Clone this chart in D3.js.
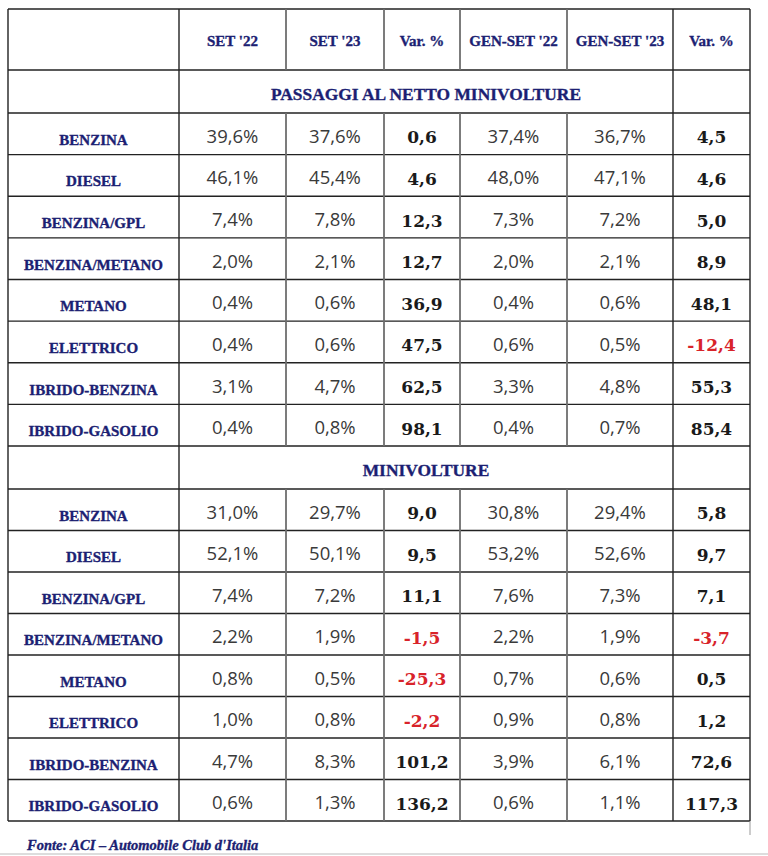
<!DOCTYPE html>
<html><head><meta charset="utf-8">
<script src="https://cdn.jsdelivr.net/npm/d3@7"></script>
<style>body{margin:0;background:#fff}</style>
</head><body>
<svg id="c" width="768" height="856"></svg>
<script>
const headers = ["", "SET '22", "SET '23", "Var. %", "GEN-SET '22", "GEN-SET '23", "Var. %"];
const sections = ["PASSAGGI AL NETTO MINIVOLTURE", "MINIVOLTURE"];
const fuels = ["BENZINA","DIESEL","BENZINA/GPL","BENZINA/METANO","METANO","ELETTRICO","IBRIDO-BENZINA","IBRIDO-GASOLIO"];
const set22_a = ["39,6%","46,1%","7,4%","2,0%","0,4%","0,4%","3,1%","0,4%"];
const set23_a = ["37,6%","45,4%","7,8%","2,1%","0,6%","0,6%","4,7%","0,8%"];
const var1_a  = [0.6,4.6,12.3,12.7,36.9,47.5,62.5,98.1];
const gen22_a = ["37,4%","48,0%","7,3%","2,0%","0,4%","0,6%","3,3%","0,4%"];
const gen23_a = ["36,7%","47,1%","7,2%","2,1%","0,6%","0,5%","4,8%","0,7%"];
const var2_a  = [4.5,4.6,5.0,8.9,48.1,-12.4,55.3,85.4];
const set22_b = ["31,0%","52,1%","7,4%","2,2%","0,8%","1,0%","4,7%","0,6%"];
const set23_b = ["29,7%","50,1%","7,2%","1,9%","0,5%","0,8%","8,3%","1,3%"];
const var1_b  = [9.0,9.5,11.1,-1.5,-25.3,-2.2,101.2,136.2];
const gen22_b = ["30,8%","53,2%","7,6%","2,2%","0,7%","0,9%","3,9%","0,6%"];
const gen23_b = ["29,4%","52,6%","7,3%","1,9%","0,6%","0,8%","6,1%","1,1%"];
const var2_b  = [5.8,9.7,7.1,-3.7,0.5,1.2,72.6,117.3];
const source = "Fonte: ACI \u2013 Automobile Club d'Italia";

const svg = d3.select("#c");
const colX = [8,179,286,384,460,567,673,750];
const navy = "#1c1f73";
const serif = "'Liberation Serif', serif";
const fmt = v => d3.format(".1f")(v).replace(".", ",").replace("\u2212","-");

const yA = d3.scaleLinear().domain([0,8]).range([113,446]);
const yB = d3.scaleLinear().domain([0,8]).range([489,821]);

const blocks = [
  {y: yA, cols: [set22_a,set23_a,var1_a,gen22_a,gen23_a,var2_a], sec: sections[0], secTop:70},
  {y: yB, cols: [set22_b,set23_b,var1_b,gen22_b,gen23_b,var2_b], sec: sections[1], secTop:446}
];

const bold = sel => sel.attr("stroke", navy).attr("stroke-width", 0.35);

const g = svg.append("g");
headers.forEach((h,i)=>{
  if(!h) return;
  g.append("text").attr("x",(colX[i]+colX[i+1])/2).attr("y",46)
   .attr("text-anchor","middle").attr("font-family",serif)
   .attr("font-weight","bold").attr("font-size",15).attr("fill",navy).call(bold).text(h);
});

blocks.forEach(b=>{
  g.append("text").attr("x",(colX[1]+colX[6])/2).attr("y",b.secTop+30)
   .attr("text-anchor","middle").attr("font-family",serif)
   .attr("font-weight","bold").attr("font-size",17.4).attr("fill",navy).call(bold).text(b.sec);
  fuels.forEach((f,r)=>{
    const top = b.y(r), bot = b.y(r+1), mid=(top+bot)/2;
    g.append("text").attr("x",(colX[0]+colX[1])/2).attr("y",mid+11)
     .attr("text-anchor","middle").attr("font-family",serif)
     .attr("font-weight","bold").attr("font-size",15).attr("fill",navy).call(bold).text(f);
    b.cols.forEach((col,ci)=>{
      const v = col[r];
      const isVar = typeof v === "number";
      const t = g.append("text").attr("x",(colX[ci+1]+colX[ci+2])/2)
        .attr("text-anchor","middle");
      if(isVar){
        t.attr("y",mid+9.5).attr("font-family","'DejaVu Serif', serif").attr("font-weight","bold")
         .attr("font-size",17).attr("fill", v<0?"#d8232a":"#1a1a1a").text(fmt(v));
      } else {
        t.attr("y",mid+9).attr("font-family","'Open Sans', sans-serif").attr("font-size",18.5)
         .attr("fill","#3a3a3a").text(v);
      }
    });
  });
});

const lines = svg.append("g");
const hY = [9,70,113,...d3.range(1,9).map(i=>yA(i)),489,...d3.range(1,9).map(i=>yB(i))];
hY.forEach(y=>{
  lines.append("line").attr("x1",colX[0]).attr("x2",colX[7]).attr("y1",y).attr("y2",y)
   .attr("stroke","#222").attr("stroke-width",1.4);
});
colX.forEach((x,i)=>{
  const outer = (i===0||i===7||i===1||i===6);
  const segs = outer ? [[9,821]] : [[9,70],[113,446],[489,821]];
  segs.forEach(s=>{
    lines.append("line").attr("x1",x).attr("x2",x).attr("y1",s[0]).attr("y2",s[1])
     .attr("stroke", outer?"#222":"#6e6e6e").attr("stroke-width", outer?1.4:1.8);
  });
});
lines.append("line").attr("x1",750).attr("x2",750).attr("y1",821).attr("y2",835)
 .attr("stroke","#999").attr("stroke-width",1);
lines.append("line").attr("x1",0).attr("x2",768).attr("y1",854).attr("y2",854)
 .attr("stroke","#bbb").attr("stroke-width",1);

svg.append("text").attr("x",27).attr("y",850).attr("font-family",serif)
 .attr("font-weight","bold").attr("font-style","italic").attr("font-size",14.5)
 .attr("fill",navy).call(bold).text(source);
</script>
</body></html>
